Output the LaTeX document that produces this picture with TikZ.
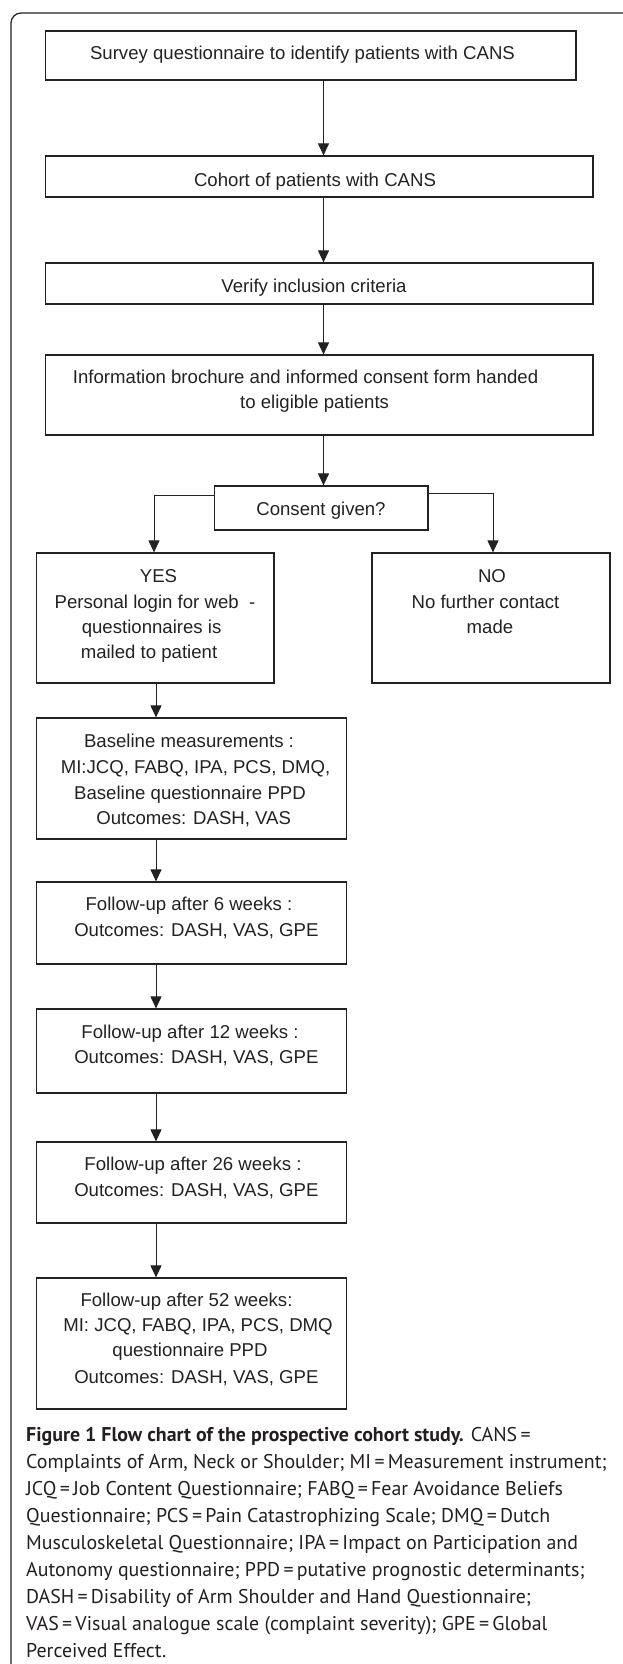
\documentclass[tikz,border=0pt]{standalone}
\usepackage{fontspec}
\setmainfont{Liberation Sans}
\newfontfamily\capfont{PT Sans}
\usetikzlibrary{arrows.meta}
\definecolor{ink}{HTML}{222222}
\definecolor{capink}{HTML}{231F20}
\begin{document}
\begin{tikzpicture}[x=1pt,y=-1pt,
  box/.style={draw=ink,line width=1.2pt,inner sep=0pt,minimum width=#1},
  box/.default=310pt,
  txt/.style={font=\fontsize{18.6}{24}\selectfont,text=ink,inner sep=0pt,anchor=base},
  captext/.style={font=\capfont\fontsize{19.9}{27}\selectfont,text=capink,inner sep=0pt,anchor=base west},
  arr/.style={draw=ink,line width=1pt,-{Triangle[width=11pt,length=12pt]}}]
\useasboundingbox (0,0) rectangle (622,1664);
% frame
\draw[draw=ink,line width=1.2pt,rounded corners=10pt] (11,1669) -- (11,13) -- (700,13);
% boxes
\node[box=530.4pt,minimum height=49pt] (b1) at (310.8,55.5) {};
\node[box=547.4pt,minimum height=41pt] (b2) at (319.3,176.5) {};
\node[box=547.4pt,minimum height=41pt] (b3) at (319.3,283.5) {};
\node[box=547.4pt,minimum height=80pt] (b4) at (319.3,395) {};
\node[box=213.3pt,minimum height=44pt] (cg) at (321.35,508) {};
\node[box=237.5pt,minimum height=130pt] (yes) at (155.25,618) {};
\node[box=238pt,minimum height=130pt] (no) at (491,618) {};
\node[box,minimum height=121pt] (base) at (191.5,778.5) {};
\node[box,minimum height=82pt] (fu6) at (191.5,923) {};
\node[box,minimum height=84pt] (fu12) at (191.5,1051) {};
\node[box,minimum height=81pt] (fu26) at (191.5,1182.5) {};
\node[box,minimum height=131pt] (fu52) at (191.5,1343.5) {};
% texts
\node[txt] (t1) at (302.5,60) {Survey questionnaire to identify patients with CANS};
\node[txt] (t2) at (315,186.7) {Cohort of patients with CANS};
\node[txt] (t3) at (314,292.7) {Verify inclusion criteria};
\node[txt] (t4a) at (305.6,383) {Information brochure and informed consent form handed};
\node[txt] (t4b) at (314.6,408) {to eligible patients};
\node[txt] (tc) at (321,515) {Consent given?};
\node[txt] (ty1) at (158.5,582) {YES};
\node[txt] (ty2) at (155,608) {Personal login for web \ -};
\node[txt] (ty3) at (151.6,633) {questionnaires is};
\node[txt] (ty4) at (149,658) {mailed to patient};
\node[txt] (tn1) at (492,582) {NO};
\node[txt] (tn2) at (485.5,608) {No further contact};
\node[txt] (tn3) at (490,633) {made};
\node[txt] (tb1) at (189,747) {Baseline measurements :};
\node[txt] (tb2) at (195.5,773) {MI:JCQ, FABQ, IPA, PCS, DMQ,};
\node[txt] (tb3) at (190,799) {Baseline questionnaire PPD};
\node[txt] (tb4) at (193.7,824) {Outcomes: DASH, VAS};
\node[txt] (t6a) at (189,910.7) {Follow-up after 6 weeks :};
\node[txt] (t6b) at (196.4,936.7) {Outcomes: DASH, VAS, GPE};
\node[txt] (t12a) at (190,1038) {Follow-up after 12 weeks :};
\node[txt] (t12b) at (196.4,1063) {Outcomes: DASH, VAS, GPE};
\node[txt] (t26a) at (193,1170) {Follow-up after 26 weeks :};
\node[txt] (t26b) at (196.4,1196) {Outcomes: DASH, VAS, GPE};
\node[txt] (t52a) at (186.5,1306.7) {Follow-up after 52 weeks:};
\node[txt] (t52b) at (198,1331.7) {MI: JCQ, FABQ, IPA, PCS, DMQ};
\node[txt] (t52c) at (190,1356.7) {questionnaire PPD};
\node[txt] (t52d) at (196.4,1383) {Outcomes: DASH, VAS, GPE};
% connectors
\coordinate (xa) at (323.5,0);
\coordinate (xb) at (156,0);
\draw[arr] (b1.south -| xa) -- (b2.north -| xa);
\draw[arr] (b2.south -| xa) -- (b3.north -| xa);
\draw[arr] (b3.south -| xa) -- (b4.north -| xa);
\draw[arr] (b4.south -| xa) -- (cg.north -| xa);
\coordinate (cl) at (0,495);
\coordinate (cr) at (0,493);
\coordinate (xl) at (154,0);
\coordinate (xr) at (493,0);
\draw[arr] (cg.west |- cl) -| (yes.north -| xl);
\draw[arr] (cg.east |- cr) -| (no.north -| xr);
\draw[arr] (yes.south -| xb) -- (base.north -| xb);
\draw[arr] (base.south -| xb) -- (fu6.north -| xb);
\draw[arr] (fu6.south -| xb) -- (fu12.north -| xb);
\draw[arr] (fu12.south -| xb) -- (fu26.north -| xb);
\draw[arr] (fu26.south -| xb) -- (fu52.north -| xb);
% caption
\node[captext] (c1) at (26,1441) {\textbf{Figure 1 Flow chart of the prospective cohort study.} CANS\,=};
\node[captext] (c2) at (26,1468) {Complaints of Arm, Neck or Shoulder; MI\,=\,Measurement instrument;};
\node[captext] (c3) at (26,1495) {JCQ\,=\,Job Content Questionnaire; FABQ\,=\,Fear Avoidance Beliefs};
\node[captext] (c4) at (26,1522) {Questionnaire; PCS\,=\,Pain Catastrophizing Scale; DMQ\,=\,Dutch};
\node[captext] (c5) at (26,1549) {Musculoskeletal Questionnaire; IPA\,=\,Impact on Participation and};
\node[captext] (c6) at (26,1576) {Autonomy questionnaire; PPD\,=\,putative prognostic determinants;};
\node[captext] (c7) at (26,1603) {DASH\,=\,Disability of Arm Shoulder and Hand Questionnaire;};
\node[captext] (c8) at (26,1630) {VAS\,=\,Visual analogue scale (complaint severity); GPE\,=\,Global};
\node[captext] (c9) at (26,1657) {Perceived Effect.};
\end{tikzpicture}
\end{document}
